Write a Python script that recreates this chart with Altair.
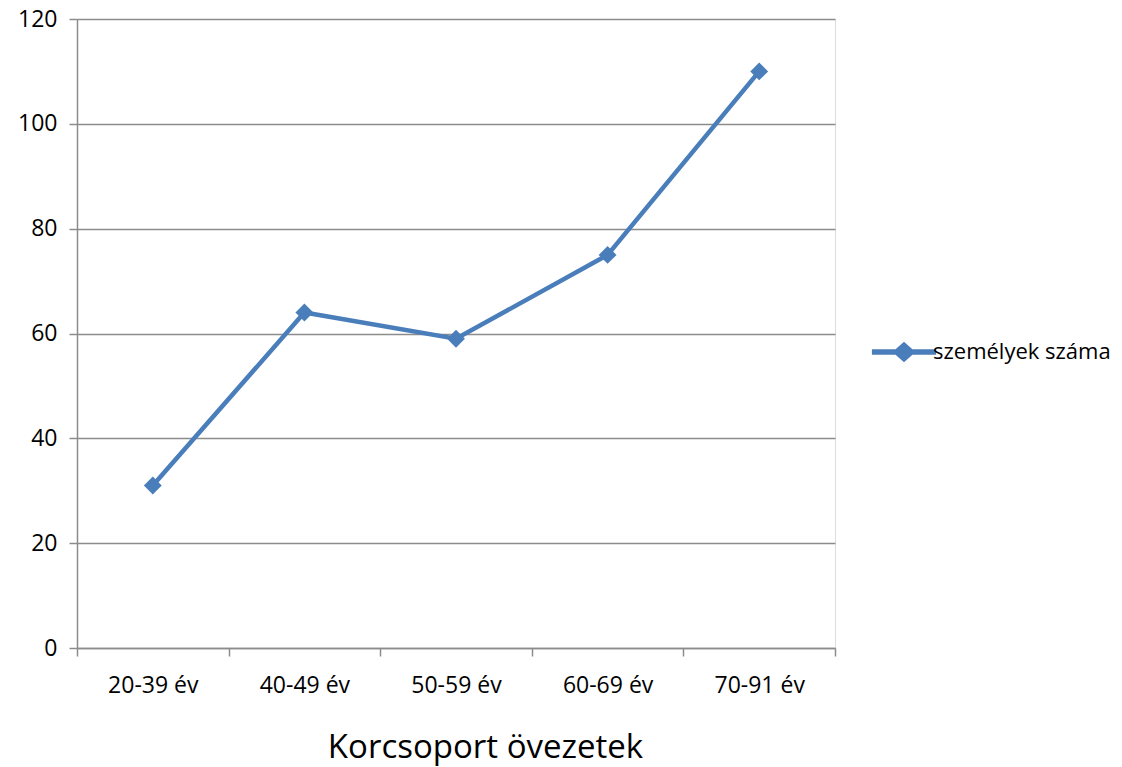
import altair as alt
import pandas as pd

categories = ["20-39 év", "40-49 év", "50-59 év", "60-69 év", "70-91 év"]
values = [31, 64, 59, 75, 110]
series_name = "személyek száma"

df = pd.DataFrame({"kat": categories, "ertek": values, "sorozat": [series_name] * len(categories)})

FONT = "Open Sans"
BLUE = "#4a7ebb"
GRID = "#8c8c8c"

legend_path = ("M-1.9,-0.16 L-0.5,-0.16 L0,-0.6 L0.5,-0.16 L1.9,-0.16 L1.9,0.16 "
               "L0.5,0.16 L0,0.6 L-0.5,0.16 L-1.9,0.16 Z")

x_enc = alt.X(
    "kat:N",
    sort=categories,
    bandPosition=0.5,
    scale=alt.Scale(type="band", paddingInner=0, paddingOuter=0),
    axis=alt.Axis(
        title="Korcsoport  övezetek",
        titleFont=FONT, titleFontSize=33, titleFontWeight="normal", titleColor="#000000",
        titlePadding=34, titleX=408, titleAlign="center",
        labelFont=FONT, labelFontSize=23, labelColor="#000000", labelPadding=18,
        labelAngle=0,
        tickBand="extent", tickSize=8, tickColor=GRID, tickWidth=1.5,
        domainColor=GRID, domainWidth=1.5, grid=False,
    ),
)
y_enc = alt.Y(
    "ertek:Q",
    scale=alt.Scale(domain=[0, 120], nice=False),
    axis=alt.Axis(
        title=None, values=[0, 20, 40, 60, 80, 100, 120],
        labelFont=FONT, labelFontSize=23, labelColor="#000000", labelPadding=12,
        tickSize=8, tickColor=GRID, tickWidth=1.5,
        domainColor=GRID, domainWidth=1.5,
        grid=True, gridColor=GRID, gridWidth=1.5,
    ),
)
color_enc = alt.Color(
    "sorozat:N",
    scale=alt.Scale(range=[BLUE]),
    legend=alt.Legend(
        title=None, orient="none", legendX=810, legendY=316,
        symbolType=legend_path, symbolSize=1140,
        symbolFillColor=BLUE, symbolStrokeColor=BLUE, symbolStrokeWidth=0,
        symbolOpacity=1,
        labelFont=FONT, labelFontSize=22, labelColor="#000000", labelOffset=12,
        labelLimit=0,
    ),
)

line = alt.Chart(df).mark_line(strokeWidth=4.5, color=BLUE).encode(x=x_enc, y=y_enc, color=color_enc)
pts = alt.Chart(df).mark_point(shape="diamond", filled=True, size=320, opacity=1, color=BLUE).encode(
    x=x_enc, y=y_enc, color=alt.Color("sorozat:N", scale=alt.Scale(range=[BLUE]), legend=None)
)

chart = (line + pts).properties(
    width=758, height=629,
    autosize=alt.AutoSizeParams(type="none"),
    padding={"left": 69, "top": 11, "right": 279, "bottom": 130},
).configure_view(stroke=None).configure(background="#ffffff")

chart.save("out.html", embed_options={"renderer": "svg", "actions": False})
